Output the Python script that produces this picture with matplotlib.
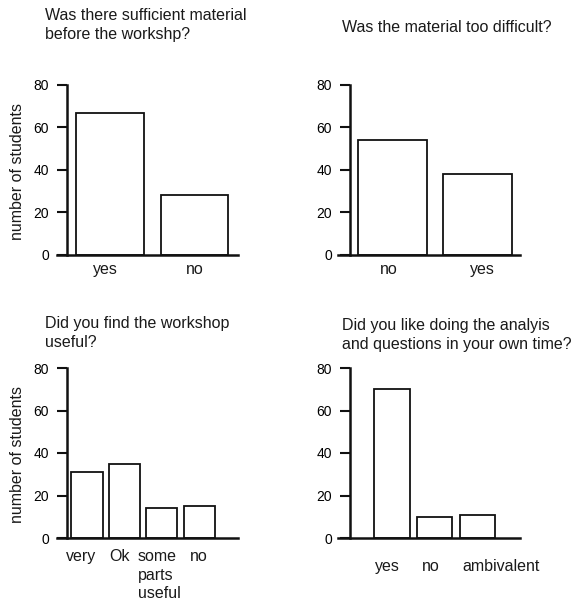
import matplotlib
matplotlib.use("Agg")
import matplotlib.pyplot as plt
from matplotlib.transforms import ScaledTranslation

plt.rcParams['font.family'] = ['Liberation Sans', 'DejaVu Sans']

# Data
q1_title = "Was there sufficient material\nbefore the workshp?"
q1_cats = ["yes", "no"]
q1_vals = [67, 28]

q2_title = "Was the material too difficult?"
q2_cats = ["no", "yes"]
q2_vals = [54, 38]

q3_title = "Did you find the workshop\nuseful?"
q3_cats = ["very", "Ok", "some\nparts\nuseful", "no"]
q3_vals = [31, 35, 14, 15]

q4_title = "Did you like doing the analyis\nand questions in your own time?"
q4_cats = ["yes", "no", "ambivalent"]
q4_vals = [70, 10, 11]

yticks = [0, 20, 40, 60, 80]
ylabel = "number of students"

W, H = 573, 605
fig = plt.figure(figsize=(W / 100, H / 100), dpi=100)
fig.patch.set_facecolor('white')

FS = 11.5
TXT = '#1a1a1a'


def px_axes(left, top, right, bottom):
    return fig.add_axes([left / W, 1 - bottom / H, (right - left) / W, (bottom - top) / H])


panels = [
    # cats, vals, title, axes px box, xlim, spine x, bar width, xtick pad, title pos, ylabel?, label px offsets
    (q1_cats, q1_vals, q1_title, (57, 85, 238, 255), (-0.627, 1.515), -0.509, 0.80, 5, (45, 25), True, [-5, 0]),
    (q2_cats, q2_vals, q2_title, (338, 85, 520, 255), (-0.641, 1.50), -0.50, 0.81, 5, (342, 27), False, [-3.5, 4.5]),
    (q3_cats, q3_vals, q3_title, (57, 368, 238, 538), (-0.80, 4.03), -0.533, 0.83, 8, (45, 333), True, [-5.5, -5, -2.5, -1]),
    (q4_cats, q4_vals, q4_title, (338, 368, 520, 538), (-1.26, 3.0), -0.98, 0.83, 15, (342, 335), False, [-4.5, -4, 24]),
]

for cats, vals, title, box, xlim, spx, bw, xpad, tpos, has_ylabel, offs in panels:
    ax = px_axes(*box)
    xs = list(range(len(cats)))
    ax.bar(xs, vals, width=bw, color='white', edgecolor='#111111', linewidth=1.3, zorder=2)
    ax.set_xlim(*xlim)
    ax.set_ylim(0, 80)
    ax.set_yticks(yticks)
    ax.set_yticklabels([str(t) for t in yticks], fontsize=12, color=TXT)
    ax.set_xticks(xs)
    ax.set_xticklabels(cats, fontsize=FS, color=TXT, linespacing=1.3, va='top',
                       multialignment='left')
    ax.tick_params(axis='x', length=0, pad=xpad)
    ax.tick_params(axis='y', length=7, width=1.5, direction='out', pad=6, color='#111111')
    for lab, dx in zip(ax.get_xticklabels(), offs):
        lab.set_transform(lab.get_transform() + ScaledTranslation(dx / 100, 0, fig.dpi_scale_trans))
    for s in ['top', 'right']:
        ax.spines[s].set_visible(False)
    ax.spines['left'].set_position(('data', spx))
    ax.spines['left'].set_linewidth(1.8)
    ax.spines['bottom'].set_linewidth(1.8)
    ax.spines['left'].set_color('#111111')
    ax.spines['bottom'].set_color('#111111')
    ax.set_facecolor('none')
    if has_ylabel:
        ax.set_ylabel(ylabel, fontsize=FS, color=TXT)
        ax.yaxis.set_label_coords((25 - box[0]) / (box[2] - box[0]), 0.49)
    fig.text(tpos[0] / W, 1 - tpos[1] / H, title, fontsize=FS, color=TXT,
             ha='left', va='center', linespacing=1.35)

fig.savefig('out.png', dpi=100, facecolor='white')
